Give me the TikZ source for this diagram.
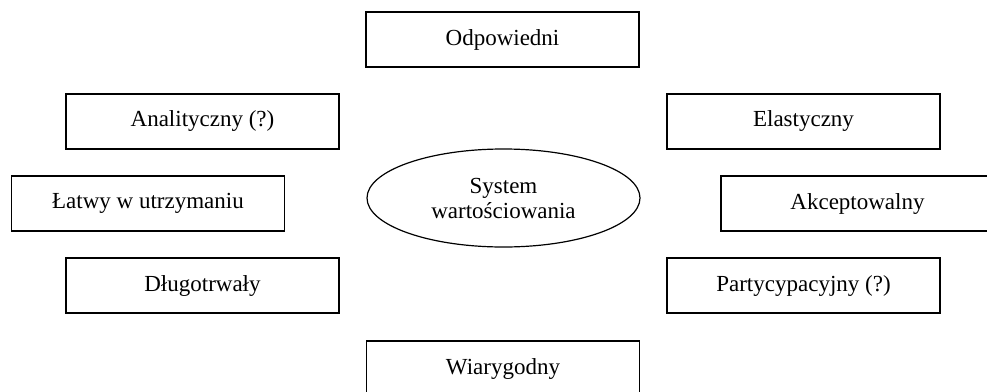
\documentclass[tikz,border=0pt]{standalone}
\usepackage{fontspec}
\setmainfont{Liberation Serif}
\usetikzlibrary{shapes.geometric}

\begin{document}
\begin{tikzpicture}[x=1pt,y=-1pt]
    \tikzstyle{every node}+=[inner sep=0pt, font=\fontsize{23}{25}\selectfont]
    \tikzstyle{cecha}=[draw=black, line width=1.2pt, rectangle, minimum width=273pt, minimum height=55pt]
    \tikzstyle{rdzen}=[draw=black, line width=1.2pt, ellipse, minimum width=273pt, minimum height=98pt, align=center]
    \useasboundingbox (0,0) rectangle (987,391);
    \node [rdzen] (sys) at (503.5,198) {System\\wartościowania};
    \node [cecha] (odp) at (502.5,39.5) {Odpowiedni};
    \node [cecha] (ana) at (202.5,121.5) {Analityczny (?)};
    \node [cecha] (ela) at (803.5,121.5) {Elastyczny};
    \node [cecha] (lat) at (148,203.5) {Łatwy w utrzymaniu};
    \node [cecha] (akc) at (857.5,203.5) {Akceptowalny};
    \node [cecha] (dlu) at (202.5,285.5) {Długotrwały};
    \node [cecha] (par) at (803.5,285.5) {Partycypacyjny (?)};
    \node [cecha] (wia) at (503,368.5) {Wiarygodny};
\end{tikzpicture}
\end{document}
